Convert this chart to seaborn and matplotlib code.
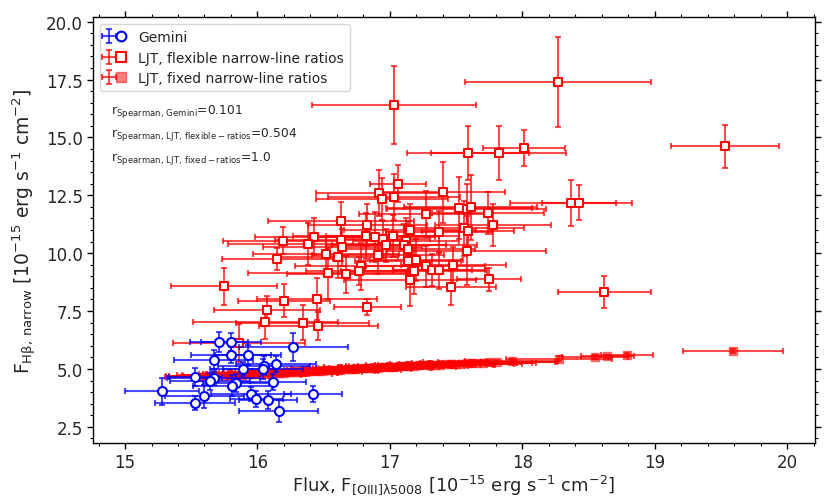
import numpy as np
import pandas as pd
import matplotlib
matplotlib.use("Agg")
import matplotlib.pyplot as plt
import seaborn as sns
from matplotlib.lines import Line2D
from matplotlib.legend_handler import HandlerTuple
from matplotlib.ticker import MultipleLocator

# ---------------- data ----------------
gem_x = [15.71, 15.80, 16.27, 15.80, 15.93, 15.67, 16.14, 16.05, 15.89, 16.04, 15.53, 15.67,
         15.64, 15.84, 16.12, 15.81, 15.28, 15.60, 15.95, 16.42, 15.53, 15.99, 16.08, 16.16]
gem_y = [6.16, 6.16, 5.95, 5.60, 5.60, 5.40, 5.22, 5.14, 5.00, 5.00, 4.65, 4.62,
         4.46, 4.39, 4.42, 4.28, 4.03, 3.82, 3.92, 3.92, 3.54, 3.69, 3.66, 3.19]
gem_xerr = [0.22, 0.23, 0.41, 0.30, 0.25, 0.30, 0.30, 0.35, 0.25, 0.30, 0.20, 0.35,
            0.30, 0.25, 0.25, 0.30, 0.28, 0.30, 0.30, 0.22, 0.30, 0.20, 0.22, 0.30]
gem_yerr = [0.42, 0.40, 0.60, 0.35, 0.45, 0.40, 0.35, 0.40, 0.30, 0.45, 0.40, 0.30,
            0.35, 0.40, 0.35, 0.45, 0.60, 0.50, 0.30, 0.35, 0.30, 0.35, 0.40, 0.48]

flex_x = [17.59, 17.82, 18.01, 17.06, 16.92, 16.94, 17.03, 17.40, 17.52, 17.58, 17.61, 17.74,
          17.27, 16.63, 16.83, 17.78, 17.15, 17.37, 17.56, 17.59, 16.43, 16.38, 16.63, 16.82,
          16.89, 16.95, 17.02, 17.12, 16.64, 16.97, 17.11, 17.14, 16.52, 16.61, 16.91, 17.14,
          17.20, 17.58, 16.78, 17.27, 17.48, 16.53, 16.67, 16.77, 17.18, 17.32, 17.37, 17.15,
          17.75, 17.46, 16.45, 16.83, 16.34, 16.46, 16.06, 16.07, 16.20, 15.86, 17.03, 18.27,
          19.53, 18.37, 18.43, 18.62, 15.75, 16.19, 16.15]
flex_y = [14.33, 14.33, 14.55, 12.99, 12.60, 12.34, 12.42, 12.63, 11.94, 11.91, 11.98, 11.75,
          11.69, 11.40, 11.21, 11.23, 11.01, 10.91, 11.07, 10.96, 10.71, 10.39, 10.55, 10.75,
          10.70, 10.61, 10.73, 10.54, 10.25, 10.34, 10.35, 10.18, 9.98, 9.85, 9.92, 9.65,
          9.72, 10.11, 9.43, 9.43, 9.47, 9.14, 9.09, 9.24, 9.23, 9.27, 9.27, 8.84,
          8.87, 8.54, 8.03, 7.67, 7.00, 6.87, 7.01, 7.54, 7.95, 6.12, 16.40, 17.41,
          14.61, 12.18, 12.18, 8.32, 8.57, 10.54, 9.76]
flex_xerr = [0.46, 0.51, 0.31, 0.21, 0.48, 0.50, 0.50, 0.47, 0.55, 0.60, 0.50, 0.42,
             0.50, 0.55, 0.45, 0.44, 0.50, 0.40, 0.45, 0.35, 0.45, 0.60, 0.50, 0.55,
             0.45, 0.35, 0.50, 0.40, 0.60, 0.45, 0.55, 0.50, 0.55, 0.45, 0.50, 0.40,
             0.35, 0.60, 0.50, 0.45, 0.40, 0.60, 0.45, 0.40, 0.55, 0.30, 0.35, 0.50,
             0.24, 0.34, 0.45, 0.25, 0.50, 0.45, 0.55, 0.40, 0.35, 0.50, 0.62, 0.70,
             0.41, 0.46, 0.28, 0.35, 0.40, 0.45, 0.42]
flex_yerr = [1.17, 1.17, 0.78, 0.80, 1.00, 0.90, 1.00, 1.31, 1.34, 1.10, 1.40, 0.90,
             1.00, 0.80, 0.90, 0.90, 1.10, 0.90, 1.20, 1.00, 0.80, 0.90, 0.90, 1.00,
             1.10, 0.80, 0.90, 1.00, 0.80, 0.70, 0.90, 1.20, 0.70, 0.90, 0.80, 1.00,
             0.90, 1.50, 1.00, 0.90, 0.80, 1.10, 0.80, 0.60, 1.00, 0.70, 0.80, 1.10,
             0.50, 0.76, 0.90, 0.35, 0.75, 0.60, 0.70, 0.60, 0.72, 0.80, 1.68, 1.94,
             0.94, 1.00, 0.76, 0.70, 0.80, 0.57, 0.48]

fix_x = [15.55, 15.61, 15.68, 15.74, 15.79, 15.84, 15.88, 15.92, 15.96, 15.99, 16.03, 16.06,
         16.10, 16.13, 16.16, 16.20, 16.23, 16.26, 16.29, 16.33, 16.36, 16.39, 16.42, 16.46,
         16.49, 16.52, 16.55, 16.58, 16.62, 16.65, 16.68, 16.71, 16.74, 16.78, 16.81, 16.84,
         16.87, 16.90, 16.93, 16.96, 17.00, 17.03, 17.07, 17.11, 17.14, 17.18, 17.22, 17.26,
         17.30, 17.34, 17.38, 17.42, 17.46, 17.50, 17.54, 17.58, 17.62, 17.66, 17.70, 17.75,
         17.81, 17.92, 18.28, 18.55, 18.64, 18.79, 19.59]
fix_y = [4.66, 4.68, 4.70, 4.71, 4.73, 4.74, 4.75, 4.76, 4.77, 4.78, 4.79, 4.80,
         4.81, 4.82, 4.83, 4.84, 4.85, 4.86, 4.87, 4.88, 4.89, 4.90, 4.91, 4.92,
         4.93, 4.94, 4.95, 4.96, 4.97, 4.98, 4.99, 5.00, 5.01, 5.02, 5.03, 5.04,
         5.05, 5.06, 5.07, 5.08, 5.09, 5.10, 5.11, 5.12, 5.13, 5.14, 5.15, 5.16,
         5.17, 5.18, 5.19, 5.20, 5.21, 5.22, 5.23, 5.24, 5.25, 5.26, 5.27, 5.28,
         5.30, 5.33, 5.44, 5.53, 5.54, 5.59, 5.78]
fix_xerr = [0.25, 0.30, 0.35, 0.30, 0.40, 0.25, 0.45, 0.30, 0.35, 0.40, 0.30, 0.50,
            0.35, 0.30, 0.45, 0.40, 0.30, 0.35, 0.50, 0.25, 0.40, 0.35, 0.30, 0.45,
            0.40, 0.30, 0.35, 0.50, 0.30, 0.40, 0.35, 0.45, 0.30, 0.40, 0.35, 0.30,
            0.45, 0.40, 0.30, 0.35, 0.50, 0.30, 0.40, 0.35, 0.45, 0.30, 0.40, 0.35,
            0.30, 0.45, 0.40, 0.35, 0.30, 0.50, 0.40, 0.35, 0.45, 0.30, 0.40, 0.50,
            0.45, 0.35, 0.40, 0.25, 0.20, 0.20, 0.38]
fix_yerr = [0.12, 0.10, 0.15, 0.12, 0.18, 0.10, 0.14, 0.12, 0.16, 0.10, 0.15, 0.12,
            0.18, 0.10, 0.14, 0.12, 0.16, 0.10, 0.15, 0.12, 0.18, 0.10, 0.14, 0.12,
            0.16, 0.10, 0.15, 0.12, 0.18, 0.10, 0.14, 0.12, 0.16, 0.10, 0.15, 0.12,
            0.18, 0.10, 0.14, 0.12, 0.16, 0.10, 0.15, 0.12, 0.18, 0.10, 0.14, 0.12,
            0.16, 0.10, 0.15, 0.12, 0.14, 0.10, 0.12, 0.10, 0.12, 0.10, 0.12, 0.10,
            0.10, 0.10, 0.10, 0.08, 0.08, 0.08, 0.10]

labels = ["Gemini", "LJT, flexible narrow-line ratios", "LJT, fixed narrow-line ratios"]
rho_texts = [r"r$_{\mathrm{Spearman,\,Gemini}}$=0.101",
             r"r$_{\mathrm{Spearman,\,LJT,\,flexible-ratios}}$=0.504",
             r"r$_{\mathrm{Spearman,\,LJT,\,fixed-ratios}}$=1.0"]

# ---------------- style ----------------
sns.set_theme(style="ticks")
plt.rcParams["font.family"] = ["DejaVu Sans"]
plt.rcParams["mathtext.fontset"] = "dejavusans"

fig = plt.figure(figsize=(8.3, 5.02), dpi=100)
ax = fig.add_axes([0.1117, 0.1155, 0.8703, 0.8485])

df_gem = pd.DataFrame({"x": gem_x, "y": gem_y})
df_flex = pd.DataFrame({"x": flex_x, "y": flex_y})
df_fix = pd.DataFrame({"x": fix_x, "y": fix_y})

ekw = dict(fmt="none", capsize=2.5, elinewidth=1.5, capthick=1.5, alpha=0.7)

c_fix = ax.errorbar(fix_x, fix_y, xerr=fix_xerr, yerr=fix_yerr, ecolor="red", zorder=2, **ekw)
sns.scatterplot(data=df_fix, x="x", y="y", marker="s", s=40, color="red", alpha=0.5,
                edgecolor="red", linewidth=1.0, ax=ax, legend=False, zorder=3)

c_flex = ax.errorbar(flex_x, flex_y, xerr=flex_xerr, yerr=flex_yerr, ecolor="red", zorder=2, **ekw)
sns.scatterplot(data=df_flex, x="x", y="y", marker="s", s=40, facecolor="white",
                edgecolor="red", linewidth=1.5, ax=ax, legend=False, zorder=4)

c_gem = ax.errorbar(gem_x, gem_y, xerr=gem_xerr, yerr=gem_yerr, ecolor="blue", zorder=5, **ekw)
sns.scatterplot(data=df_gem, x="x", y="y", marker="o", s=42, facecolor="white",
                edgecolor="blue", linewidth=1.5, ax=ax, legend=False, zorder=6)

ax.set_xlim(14.756, 20.21)
ax.set_ylim(1.8, 20.2)

ax.xaxis.set_major_locator(MultipleLocator(1))
ax.xaxis.set_minor_locator(MultipleLocator(0.2))
ax.yaxis.set_major_locator(MultipleLocator(2.5))
ax.yaxis.set_minor_locator(MultipleLocator(0.5))
ax.tick_params(which="both", top=True, right=True, direction="out", color="black")
ax.tick_params(which="major", length=4, width=1, labelsize=12, pad=3)
ax.tick_params(which="minor", length=2, width=0.8)
for sp in ax.spines.values():
    sp.set_color("black")
    sp.set_linewidth(1.0)

ax.set_xlabel(r"Flux, F$_{\mathrm{[OIII]λ5008}}$ [10$^{-15}$ erg s$^{-1}$ cm$^{-2}$]",
              fontsize=13, labelpad=1)
ax.set_ylabel(r"F$_{\mathrm{Hβ,\,narrow}}$ [10$^{-15}$ erg s$^{-1}$ cm$^{-2}$]",
              fontsize=13.5, labelpad=5)

# legend
h_gem = (c_gem, Line2D([], [], marker="o", ls="none", ms=7, mfc="white", mec="blue", mew=1.5))
h_flex = (c_flex, Line2D([], [], marker="s", ls="none", ms=6.5, mfc="white", mec="red", mew=1.5))
h_fix = (c_fix, Line2D([], [], marker="s", ls="none", ms=6.5, mfc="red", mec="red", alpha=0.5))
ax.legend([h_gem, h_flex, h_fix], labels, loc="upper left", fontsize=10,
          handler_map={tuple: HandlerTuple(ndivide=None)}, frameon=True,
          borderpad=0.45, labelspacing=0.45, handlelength=1.3, handletextpad=1.0)

for i, t in enumerate(rho_texts):
    ax.text(0.026, 0.775 - i * 0.055, t, transform=ax.transAxes, fontsize=8.8,
            ha="left", va="baseline")

fig.savefig("out.png", dpi=100)
